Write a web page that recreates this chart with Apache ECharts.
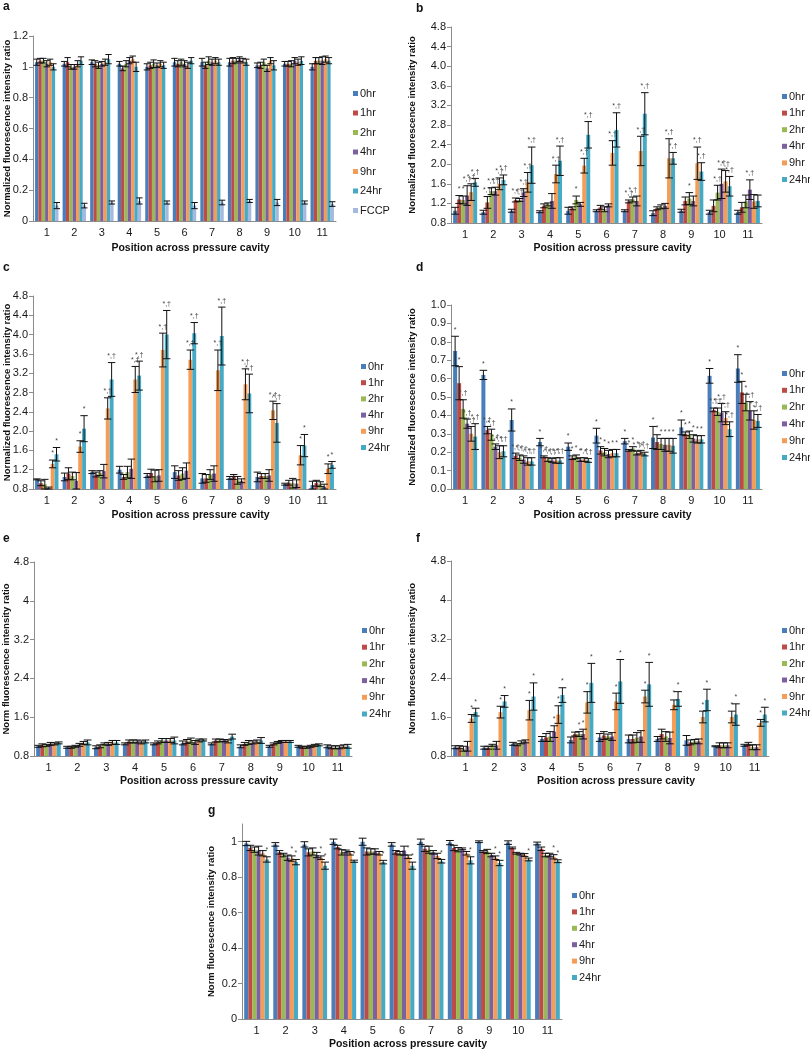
<!DOCTYPE html>
<html><head><meta charset="utf-8">
<script src="https://cdn.jsdelivr.net/npm/echarts@6/dist/echarts.min.js"></script>
<style>html,body{margin:0;padding:0;background:#fff}#c{width:810px;height:1050px}</style>
</head><body><div id="c"></div>
<script>
// ---------- data ----------
const categories = ['1','2','3','4','5','6','7','8','9','10','11'];
const timeNames = ['0hr','1hr','2hr','4hr','9hr','24hr'];
const fccpName = 'FCCP';
const S = '*', D = '*,\u2020', N = '';

// panel a: rows = positions, columns = 0hr,1hr,2hr,4hr,9hr,24hr,FCCP
const aMeans = [
 [1.03,1.04,1.04,1.02,1.03,1.00,0.10],
 [1.02,1.03,1.00,1.00,1.02,1.04,0.10],
 [1.03,1.02,1.01,1.02,1.03,1.05,0.12],
 [1.02,0.99,1.02,1.04,1.05,1.00,0.13],
 [1.00,1.01,1.02,1.01,1.02,1.01,0.12],
 [1.03,1.02,1.03,1.02,1.01,1.04,0.10],
 [1.03,1.01,1.04,1.03,1.04,1.03,0.12],
 [1.03,1.04,1.04,1.05,1.04,1.03,0.13],
 [1.01,1.01,1.03,0.99,1.04,1.01,0.12],
 [1.02,1.02,1.02,1.04,1.03,1.04,0.12],
 [1.00,1.04,1.04,1.04,1.05,1.04,0.11]];
const aErrs = [
 [0.02,0.015,0.015,0.02,0.02,0.02,0.02],
 [0.015,0.03,0.015,0.015,0.02,0.025,0.015],
 [0.015,0.02,0.02,0.015,0.02,0.03,0.01],
 [0.015,0.015,0.02,0.02,0.02,0.03,0.02],
 [0.02,0.02,0.025,0.015,0.02,0.02,0.01],
 [0.025,0.02,0.02,0.02,0.02,0.02,0.02],
 [0.025,0.02,0.025,0.02,0.02,0.02,0.015],
 [0.025,0.02,0.015,0.015,0.015,0.02,0.01],
 [0.015,0.02,0.02,0.02,0.02,0.03,0.02],
 [0.015,0.015,0.02,0.02,0.02,0.025,0.01],
 [0.02,0.02,0.02,0.025,0.02,0.02,0.015]];

const bMeans = [
 [1.05,1.28,1.27,1.36,1.43,1.63],
 [1.02,1.22,1.45,1.45,1.60,1.68],
 [1.05,1.27,1.27,1.42,1.63,1.98],
 [1.03,1.15,1.18,1.25,1.80,2.07],
 [1.05,1.10,1.27,1.18,1.97,2.60],
 [1.05,1.12,1.08,1.16,2.23,2.70],
 [1.05,1.24,1.28,1.25,2.27,3.03],
 [1.00,1.10,1.13,1.15,2.12,2.12],
 [1.05,1.25,1.30,1.25,2.02,1.85],
 [1.02,1.15,1.42,1.60,1.65,1.55],
 [1.02,1.12,1.24,1.48,1.24,1.25]];
const bErrs = [
 [0.07,0.08,0.08,0.20,0.17,0.08],
 [0.04,0.12,0.07,0.08,0.12,0.10],
 [0.03,0.04,0.03,0.08,0.20,0.37],
 [0.02,0.04,0.03,0.15,0.18,0.30],
 [0.07,0.03,0.08,0.04,0.15,0.27],
 [0.02,0.04,0.05,0.03,0.25,0.35],
 [0.02,0.03,0.05,0.10,0.30,0.43],
 [0.05,0.03,0.04,0.05,0.40,0.12],
 [0.03,0.08,0.12,0.10,0.33,0.18],
 [0.04,0.12,0.15,0.30,0.22,0.20],
 [0.04,0.10,0.13,0.20,0.14,0.12]];
const bMarks = [
 [N,S,S,D,D,D],[N,D,D,D,D,D],[N,D,D,D,D,D],[N,N,N,N,D,D],[N,N,S,N,D,D],[N,N,N,N,D,D],
 [N,D,D,N,D,D],[N,N,N,N,D,D],[N,N,S,N,D,D],[N,N,D,D,D,D],[N,N,N,D,N,N]];

const cMeans = [
 [1.00,0.92,0.90,0.82,1.32,1.52],
 [1.05,1.12,1.07,0.97,1.68,2.05],
 [1.15,1.10,1.13,1.17,2.47,3.07],
 [1.20,1.05,1.15,1.22,3.07,3.15],
 [1.08,1.13,1.07,1.08,3.68,4.00],
 [1.15,1.08,1.12,1.18,3.48,4.03],
 [1.02,1.02,1.10,1.12,3.26,3.97],
 [1.03,1.05,0.98,0.97,2.97,2.78],
 [1.05,1.07,1.07,1.08,2.43,2.17],
 [0.90,0.93,0.92,0.91,1.50,1.70],
 [0.88,0.92,0.90,0.85,1.22,1.30]];
const cErrs = [
 [0.01,0.05,0.10,0.02,0.08,0.14],
 [0.08,0.12,0.08,0.17,0.12,0.27],
 [0.03,0.05,0.05,0.14,0.22,0.35],
 [0.07,0.05,0.12,0.20,0.27,0.30],
 [0.04,0.08,0.12,0.12,0.35,0.50],
 [0.13,0.10,0.12,0.16,0.20,0.22],
 [0.10,0.08,0.10,0.16,0.42,0.60],
 [0.03,0.05,0.08,0.04,0.32,0.40],
 [0.10,0.05,0.05,0.12,0.19,0.40],
 [0.02,0.05,0.10,0.08,0.20,0.23],
 [0.08,0.06,0.05,0.05,0.10,0.07]];
const cMarks = [
 [N,N,N,N,S,S],[N,N,N,N,S,S],[N,N,N,N,D,D],[N,N,N,N,D,D],[N,N,N,N,D,D],[N,N,N,N,D,D],
 [N,N,N,N,D,D],[N,N,N,N,D,D],[N,N,N,N,D,D],[N,N,N,N,S,S],[N,N,N,N,S,S]];

const dMeans = [
 [0.750,0.575,0.435,0.355,0.300,0.285],
 [0.620,0.320,0.295,0.230,0.200,0.205],
 [0.375,0.180,0.170,0.160,0.150,0.150],
 [0.255,0.175,0.160,0.155,0.155,0.155],
 [0.230,0.170,0.175,0.160,0.160,0.155],
 [0.290,0.210,0.200,0.190,0.195,0.195],
 [0.260,0.210,0.220,0.195,0.200,0.190],
 [0.280,0.255,0.245,0.240,0.240,0.235],
 [0.335,0.300,0.295,0.275,0.270,0.270],
 [0.615,0.430,0.420,0.415,0.385,0.325],
 [0.655,0.525,0.470,0.425,0.375,0.370]];
const dErrs = [
 [0.080,0.090,0.050,0.025,0.040,0.070],
 [0.025,0.020,0.030,0.015,0.035,0.030],
 [0.060,0.015,0.015,0.020,0.020,0.020],
 [0.020,0.005,0.010,0.010,0.015,0.015],
 [0.020,0.010,0.010,0.010,0.010,0.010],
 [0.040,0.020,0.020,0.020,0.020,0.020],
 [0.015,0.005,0.010,0.010,0.010,0.010],
 [0.060,0.040,0.030,0.035,0.035,0.040],
 [0.040,0.010,0.020,0.020,0.020,0.020],
 [0.040,0.010,0.020,0.050,0.035,0.040],
 [0.075,0.060,0.045,0.050,0.050,0.035]];
const dMarks = [
 [S,S,D,D,D,D],[S,D,D,D,D,D],[S,D,D,D,D,D],[S,D,D,D,D,D],[S,S,S,S,D,D],[S,S,S,S,S,S],
 [S,S,S,D,D,D],[S,S,S,S,S,S],[S,S,S,S,S,S],[S,D,D,D,D,D],[S,S,S,D,D,D]];

const eMeans = [
 [1.00,1.02,1.02,1.05,1.05,1.07],
 [0.98,0.98,1.00,1.03,1.07,1.08],
 [0.98,1.00,1.05,1.05,1.08,1.08],
 [1.05,1.10,1.10,1.10,1.08,1.10],
 [1.05,1.08,1.12,1.12,1.12,1.12],
 [1.07,1.10,1.12,1.08,1.12,1.13],
 [1.05,1.12,1.12,1.12,1.10,1.20],
 [1.00,1.05,1.08,1.08,1.10,1.12],
 [1.00,1.05,1.08,1.10,1.10,1.10],
 [1.00,0.98,0.98,1.00,1.02,1.03],
 [1.00,0.98,0.98,0.98,1.00,1.00]];
const eErrs = [
 [0.02,0.03,0.02,0.03,0.02,0.02],
 [0.02,0.02,0.02,0.03,0.03,0.05],
 [0.03,0.03,0.02,0.03,0.04,0.04],
 [0.02,0.03,0.03,0.03,0.03,0.03],
 [0.02,0.03,0.04,0.04,0.04,0.07],
 [0.04,0.04,0.05,0.04,0.03,0.02],
 [0.02,0.03,0.03,0.02,0.03,0.05],
 [0.03,0.03,0.04,0.03,0.03,0.06],
 [0.02,0.02,0.02,0.02,0.02,0.02],
 [0.02,0.02,0.02,0.02,0.02,0.02],
 [0.03,0.03,0.03,0.03,0.03,0.04]];

const fMeans = [
 [0.98,0.98,0.95,1.00,1.57,1.70],
 [0.97,0.97,1.02,1.02,1.70,1.92],
 [1.05,1.03,1.08,1.10,1.74,2.02],
 [1.15,1.18,1.20,1.30,1.65,2.05],
 [1.13,1.25,1.25,1.25,1.90,2.30],
 [1.18,1.22,1.20,1.20,1.92,2.33],
 [1.15,1.15,1.18,1.20,2.02,2.27],
 [1.15,1.25,1.20,1.17,1.85,1.97],
 [1.12,1.08,1.10,1.10,1.60,1.95],
 [1.00,1.02,1.02,1.02,1.60,1.65],
 [1.02,1.05,0.98,0.98,1.48,1.65]];
const fErrs = [
 [0.03,0.03,0.05,0.10,0.08,0.08],
 [0.03,0.03,0.02,0.08,0.12,0.12],
 [0.03,0.02,0.03,0.03,0.20,0.28],
 [0.05,0.08,0.10,0.12,0.18,0.15],
 [0.06,0.04,0.05,0.10,0.22,0.40],
 [0.08,0.08,0.05,0.08,0.17,0.45],
 [0.08,0.08,0.10,0.12,0.13,0.45],
 [0.05,0.10,0.10,0.12,0.10,0.15],
 [0.10,0.05,0.04,0.05,0.12,0.22],
 [0.01,0.05,0.05,0.05,0.12,0.22],
 [0.02,0.03,0.05,0.05,0.07,0.15]];
const fMarks = [
 [N,N,N,N,S,S],[N,N,N,N,S,S],[N,N,N,N,S,S],[N,N,N,S,S,S],[N,N,S,S,S,S],[N,N,N,N,S,S],
 [N,N,N,N,S,S],[N,N,N,N,S,S],[N,N,N,N,S,S],[N,N,N,N,S,S],[N,N,N,N,S,S]];

const gMeans = [
 [0.990,0.965,0.955,0.950,0.935,0.900],
 [0.985,0.940,0.925,0.910,0.905,0.885],
 [0.985,0.940,0.945,0.925,0.910,0.865],
 [1.000,0.970,0.940,0.945,0.935,0.890],
 [1.000,0.945,0.945,0.945,0.935,0.885],
 [0.985,0.940,0.935,0.950,0.915,0.865],
 [1.000,0.960,0.955,0.940,0.920,0.890],
 [0.995,0.965,0.955,0.960,0.935,0.895],
 [1.000,0.945,0.945,0.925,0.910,0.880],
 [0.995,0.965,0.935,0.930,0.925,0.900],
 [0.990,0.960,0.925,0.925,0.915,0.890]];
const gErrs = [
 [0.012,0.015,0.015,0.025,0.015,0.015],
 [0.010,0.010,0.010,0.015,0.015,0.015],
 [0.015,0.020,0.020,0.015,0.010,0.020],
 [0.015,0.010,0.015,0.008,0.010,0.006],
 [0.020,0.020,0.015,0.015,0.010,0.010],
 [0.010,0.010,0.010,0.025,0.010,0.020],
 [0.015,0.015,0.020,0.010,0.015,0.010],
 [0.012,0.015,0.012,0.005,0.010,0.020],
 [0.005,0.005,0.012,0.010,0.010,0.015],
 [0.010,0.005,0.005,0.005,0.008,0.008],
 [0.008,0.010,0.010,0.010,0.012,0.008]];
const gMarks = [
 [N,N,N,N,N,S],[N,N,N,N,S,S],[N,N,N,N,S,S],[N,N,N,N,N,S],[N,N,N,N,N,S],[N,N,N,N,S,S],
 [N,N,N,N,N,S],[N,N,N,N,N,S],[N,N,N,N,S,S],[N,N,N,N,N,S],[N,N,N,N,S,S]];

const yTitleLong = 'Normalized fluorescence intensity ratio';
const yTitleShort = 'Norm fluorescence intensity ratio';
const xTitle = 'Position across pressure cavity';

// ---------- layout / style ----------
const palette = ['#4A7EBB','#BE4B48','#98B954','#7D60A0','#F59D56','#46AAC5','#A5B9DF'];
const FONT = '"Liberation Sans", Arial, sans-serif';
const CAT_GAP = 0.15;

const panels = [
 {key:'a', means:aMeans, errs:aErrs, marks:null, names:timeNames.concat([fccpName]),
  grid:{left:33, top:36, width:303, height:185}, y:{min:0,max:1.2,interval:0.2},
  yTitle:yTitleLong, yTitleX:7, legend:{left:353, top:88, gap:8.5}, label:[3,1], xTitleY:248},
 {key:'b', means:bMeans, errs:bErrs, marks:bMarks, names:timeNames,
  grid:{left:451, top:27, width:311, height:196}, y:{min:0.8,max:4.8,interval:0.4,fix:1},
  yTitle:yTitleLong, yTitleX:412, legend:{left:782, top:91, gap:5.6}, label:[416,3], xTitleY:248},
 {key:'c', means:cMeans, errs:cErrs, marks:cMarks, names:timeNames,
  grid:{left:33, top:296, width:303, height:193}, y:{min:0.8,max:4.8,interval:0.4,fix:1},
  yTitle:yTitleLong, yTitleX:7, legend:{left:361, top:361, gap:5.2}, label:[3,262], xTitleY:515},
 {key:'d', means:dMeans, errs:dErrs, marks:dMarks, names:timeNames,
  grid:{left:451, top:305, width:311, height:184}, y:{min:0,max:1.0,interval:0.1,fix:1},
  yTitle:yTitleLong, yTitleX:412, legend:{left:782, top:368, gap:5.8}, label:[416,262], xTitleY:515},
 {key:'e', means:eMeans, errs:eErrs, marks:null, names:timeNames,
  grid:{left:34, top:562, width:318, height:194}, y:{min:0.8,max:4.8,interval:0.8},
  yTitle:yTitleShort, yTitleX:6, legend:{left:362, top:625, gap:5.7}, label:[3,533], xTitleY:781},
 {key:'f', means:fMeans, errs:fErrs, marks:fMarks, names:timeNames,
  grid:{left:451, top:561, width:318, height:195}, y:{min:0.8,max:4.8,interval:0.8},
  yTitle:yTitleShort, yTitleX:412, legend:{left:782, top:625, gap:5.5}, label:[416,533], xTitleY:781},
 {key:'g', means:gMeans, errs:gErrs, marks:gMarks, names:timeNames,
  grid:{left:242, top:824, width:320, height:195}, y:{min:0,max:1.1,interval:0.2,hideMax:true},
  yTitle:yTitleShort, yTitleX:211, legend:{left:572, top:890, gap:5.4}, label:[208,805], xTitleY:1044}
];

const grids=[], xAxes=[], yAxes=[], series=[], legends=[], graphics=[];
const axisLineStyle = {color:'#8C8C8C', width:1};

panels.forEach((p, pi) => {
  grids.push(Object.assign({containLabel:false}, p.grid));
  xAxes.push({type:'category', gridIndex:pi, data:categories,
    axisLine:{lineStyle:axisLineStyle}, axisTick:{alignWithLabel:false, length:4, lineStyle:axisLineStyle},
    axisLabel:{color:'#1a1a1a', fontSize:11, fontFamily:FONT, margin:6}});
  yAxes.push({type:'value', gridIndex:pi, min:p.y.min, max:p.y.max, interval:p.y.interval,
    splitLine:{show:false},
    axisLine:{show:true, lineStyle:axisLineStyle},
    axisTick:{show:true, length:4, inside:false, lineStyle:axisLineStyle},
    axisLabel:{color:'#1a1a1a', fontSize:11, fontFamily:FONT, margin:5, showMaxLabel: p.y.hideMax ? false : true,
      formatter: v => p.y.fix ? (+v).toFixed(p.y.fix) : String(+(+v).toFixed(4))}});
  const n = p.names.length;
  p.names.forEach((nm, si) => {
    series.push({type:'bar', name:nm, xAxisIndex:pi, yAxisIndex:pi,
      data: p.means.map(row => row[si]),
      barGap:'0%', barCategoryGap:(CAT_GAP*100)+'%',
      itemStyle:{color:palette[si]}, silent:true, animation:false});
  });
  // error bars + significance marks
  const errData = [];
  const markText = [];
  p.means.forEach((row, ci) => row.forEach((m, si) => {
    errData.push([ci, si, m, p.errs[ci][si]]);
    markText.push(p.marks ? p.marks[ci][si] : '');
  }));
  series.push({type:'custom', xAxisIndex:pi, yAxisIndex:pi, data:errData, z:5, silent:true, animation:false,
    encode:{x:0, y:2}, clip:false,
    renderItem:(params, api) => {
      const ci = api.value(0), si = api.value(1), m = api.value(2), e = api.value(3);
      const band = api.size([1,0])[0];
      const groupW = band*(1-CAT_GAP);
      const barW = groupW/n;
      const c = api.coord([ci, m]);
      const x = c[0] - groupW/2 + (si+0.5)*barW;
      const yt = api.coord([ci, m+e])[1];
      const yb = api.coord([ci, Math.max(m-e, p.y.min)])[1];
      const cap = Math.max(barW*0.95, 2.5);
      const st = {stroke:'#111', lineWidth:1};
      const children = [
        {type:'line', shape:{x1:x, y1:yt, x2:x, y2:yb}, style:st},
        {type:'line', shape:{x1:x-cap, y1:yt, x2:x+cap, y2:yt}, style:st},
        {type:'line', shape:{x1:x-cap, y1:yb, x2:x+cap, y2:yb}, style:st}
      ];
      const t = markText[params.dataIndex];
      if (t) children.push({type:'text', x:x, y:yt-3,
        style:{text:t, fill:'#444', fontSize:7, fontFamily:FONT, align:'center', verticalAlign:'bottom'}});
      return {type:'group', children};
    }});
  legends.push({data:p.names, orient:'vertical', left:p.legend.left, top:p.legend.top,
    itemWidth:5, itemHeight:5, itemGap:p.legend.gap, icon:'rect', selectedMode:false,
    textStyle:{fontSize:11, fontFamily:FONT, color:'#1a1a1a', padding:[0,0,0,-3]}, padding:0});
  // titles
  graphics.push({type:'text', left:p.label[0], top:p.label[1],
    style:{text:p.key, font:'bold 12px '+FONT, fill:'#111'}});
  graphics.push({type:'text', x:p.grid.left + p.grid.width/2 + 6, y:p.xTitleY,
    style:{text:xTitle, font:'bold 10.5px '+FONT, fill:'#111', align:'center', verticalAlign:'middle'}});
  graphics.push({type:'text', x:p.yTitleX, y:p.grid.top + p.grid.height/2, rotation:Math.PI/2,
    style:{text:p.yTitle, font:'bold 9.5px '+FONT, fill:'#111', align:'center', verticalAlign:'middle'}});
});

const chart = echarts.init(document.getElementById('c'), null, {renderer:'canvas'});
chart.setOption({
  backgroundColor:'#ffffff', animation:false,
  grid:grids, xAxis:xAxes, yAxis:yAxes, series:series, legend:legends, graphic:graphics
});
</script></body></html>
